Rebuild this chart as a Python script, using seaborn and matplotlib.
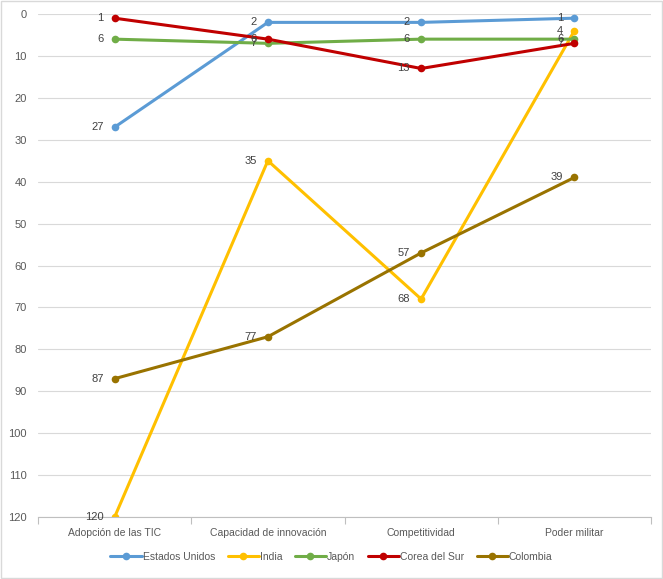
import matplotlib
matplotlib.use("Agg")
import matplotlib.pyplot as plt
import seaborn as sns
import pandas as pd
import numpy as np
from matplotlib.patches import Rectangle

categories = ["Adopción de las TIC", "Capacidad de innovación", "Competitividad", "Poder militar"]
estados_unidos = [27, 2, 2, 1]
india = [120, 35, 68, 4]
japon = [6, 7, 6, 6]
corea = [1, 6, 13, 7]
colombia = [87, 77, 57, 39]
series_names = ["Estados Unidos", "India", "Japón", "Corea del Sur", "Colombia"]
series_values = [estados_unidos, india, japon, corea, colombia]
colors = ["#5B9BD5", "#FFC000", "#70AD47", "#C00000", "#997300"]

rows = []
for name, vals in zip(series_names, series_values):
    for i, v in enumerate(vals):
        rows.append({"pos": i, "Categoría": categories[i], "Serie": name, "Valor": v})
df = pd.DataFrame(rows)

sns.set_theme(style="white")
plt.rcParams['font.family'] = ['Liberation Sans', 'DejaVu Sans']

fig = plt.figure(figsize=(6.63, 5.79), dpi=100)
ax = fig.add_axes([38/663, 1-517/579, (651-38)/663, (517-14)/579])

palette = dict(zip(series_names, colors))
sns.lineplot(data=df, x="pos", y="Valor", hue="Serie", hue_order=series_names,
             palette=palette, marker="o", markersize=5.5, markeredgewidth=0,
             linewidth=2.2, ax=ax, legend=True, sort=False)

for name, vals, c in zip(series_names, series_values, colors):
    for i, v in enumerate(vals):
        ax.annotate(str(v), (i, v), xytext=(-8, 0), textcoords="offset points",
                    ha="right", va="center", fontsize=8, color="#404040")

ax.set_xlim(-0.5, 3.5)
ax.set_ylim(120, 0)
ax.set_yticks(np.arange(0, 121, 10))
ax.set_xticks(range(len(categories)))
ax.set_xticklabels(categories)
ax.set_xticks(np.arange(-0.5, 3.6, 1), minor=True)
ax.tick_params(axis="x", which="major", length=0, pad=8, labelsize=7.5, labelcolor="#595959")
ax.tick_params(axis="x", which="minor", length=5, color="#BFBFBF", width=0.8, direction="out", bottom=True)
ax.tick_params(axis="y", length=0, pad=8, labelsize=8, labelcolor="#595959")
ax.grid(axis="y", color="#D9D9D9", linewidth=0.8)
ax.grid(axis="x", visible=False)
ax.set_axisbelow(True)
for s in ["left", "right", "top"]:
    ax.spines[s].set_visible(False)
ax.spines["bottom"].set_color("#BFBFBF")
ax.spines["bottom"].set_linewidth(0.8)
ax.set_xlabel("")
ax.set_ylabel("")

handles, labels = ax.get_legend_handles_labels()
ax.legend_.remove()
fig.legend(handles, labels, loc="center", bbox_to_anchor=(0.5, 1-557/579), ncol=5,
           frameon=False, fontsize=7.5, handlelength=3.0, columnspacing=1.2,
           handletextpad=0.1, labelcolor="#595959")

fig.patches.append(Rectangle((0.002, 0.002), 0.996, 0.996, transform=fig.transFigure,
                             fill=False, edgecolor="#D9D9D9", linewidth=1))

fig.savefig("out.png", dpi=100)
